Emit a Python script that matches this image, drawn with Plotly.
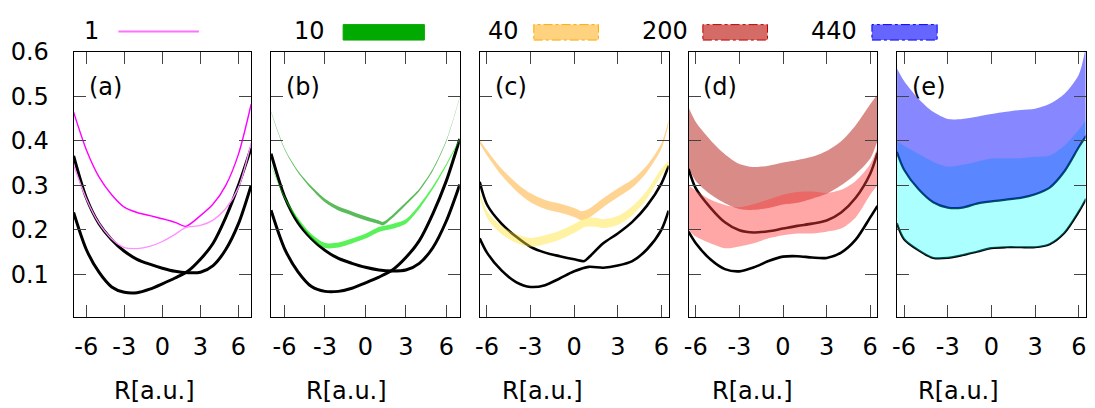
import plotly.graph_objects as go

# ------------------------------------------------------------------ data
# panels (a),(b): R from -7 to 7 ; panels (c),(d),(e): R from -6.5 to 6.5
R_ab = [-7, -6, -5, -4, -3, -2, -1, 0, 1, 2, 3, 4, 5, 6, 7]
R_cde = [-6.5, -6, -5, -4, -3, -2, -1, 0, 1, 2, 3, 4, 5, 6, 6.5]

# (a) N = 1
a_black_1 = [0.366, 0.272, 0.214, 0.178, 0.152, 0.134, 0.123, 0.114, 0.107, 0.104, 0.105, 0.120, 0.156, 0.214, 0.300]
a_black_2 = [0.239, 0.156, 0.105, 0.072, 0.060, 0.059, 0.067, 0.079, 0.092, 0.107, 0.134, 0.170, 0.228, 0.300, 0.384]
a_R_mag = [-7, -6, -5, -4, -3, -2, -1, 0, 1, 1.83, 3, 4, 5, 6, 7]
a_mag_upper = [0.464, 0.380, 0.319, 0.279, 0.251, 0.239, 0.232, 0.225, 0.217, 0.208, 0.232, 0.258, 0.300, 0.370, 0.482]
a_mag_lower = [0.345, 0.270, 0.215, 0.180, 0.160, 0.158, 0.163, 0.174, 0.190, 0.205, 0.210, 0.222, 0.248, 0.295, 0.395]

# (b) N = 10
b_black_1 = [0.371, 0.275, 0.216, 0.180, 0.154, 0.136, 0.125, 0.116, 0.110, 0.108, 0.110, 0.125, 0.160, 0.220, 0.302]
b_black_2 = [0.244, 0.158, 0.106, 0.073, 0.062, 0.062, 0.069, 0.081, 0.094, 0.110, 0.138, 0.176, 0.236, 0.310, 0.404]
b_R_up = [-7, -6, -5, -4, -3, -2, -1, 0, 1, 1.3, 2, 3, 4, 5, 6, 7]
b_green_up_mid = [0.465, 0.382, 0.331, 0.295, 0.266, 0.248, 0.237, 0.226, 0.217, 0.214, 0.230, 0.259, 0.290, 0.335, 0.400, 0.498]
b_green_up_thick = [0.002, 0.003, 0.004, 0.006, 0.008, 0.009, 0.009, 0.009, 0.008, 0.008, 0.007, 0.006, 0.005, 0.004, 0.003, 0.002]
b_green_lo_mid = [0.346, 0.273, 0.223, 0.186, 0.165, 0.166, 0.175, 0.186, 0.201, 0.208, 0.219, 0.252, 0.295, 0.346, 0.404]
b_green_lo_thick = [0.003, 0.005, 0.007, 0.009, 0.011, 0.011, 0.011, 0.011, 0.011, 0.011, 0.010, 0.009, 0.007, 0.005, 0.003]

# (c) N = 40
c_R_b1 = [-6.5, -6, -5, -4, -3, -2, -1, 0, 0.7, 1, 2, 3, 4, 5, 6, 6.5]
c_black_1 = [0.308, 0.257, 0.214, 0.185, 0.162, 0.149, 0.141, 0.134, 0.130, 0.138, 0.170, 0.192, 0.218, 0.254, 0.304, 0.344]
c_black_2 = [0.181, 0.149, 0.109, 0.083, 0.072, 0.076, 0.091, 0.107, 0.117, 0.115, 0.120, 0.130, 0.156, 0.200, 0.243]
c_R_or = [-6.5, -6, -5, -4, -3, -2, -1, 0, 0.5, 1, 2, 3, 4, 5, 6, 6.5]
c_orange_mid = [0.398, 0.373, 0.330, 0.297, 0.272, 0.257, 0.249, 0.239, 0.232, 0.237, 0.261, 0.283, 0.304, 0.337, 0.388, 0.442]
c_orange_thick = [0.008, 0.011, 0.015, 0.018, 0.020, 0.020, 0.020, 0.020, 0.020, 0.020, 0.020, 0.020, 0.018, 0.015, 0.012, 0.010]
c_R_ye = [-6.5, -6, -5, -4, -3, -2, -1, 0, 0.8, 1.5, 2, 3, 4, 5, 6, 6.5]
c_yellow_mid = [0.279, 0.235, 0.200, 0.181, 0.172, 0.178, 0.188, 0.203, 0.217, 0.217, 0.214, 0.221, 0.243, 0.279, 0.330, 0.350]
c_yellow_thick = [0.012, 0.015, 0.018, 0.020, 0.020, 0.020, 0.020, 0.020, 0.020, 0.020, 0.020, 0.020, 0.020, 0.018, 0.015, 0.012]

# (d) N = 200
d_black_1 = [0.337, 0.293, 0.250, 0.217, 0.199, 0.194, 0.197, 0.203, 0.209, 0.214, 0.221, 0.239, 0.272, 0.326, 0.373]
d_black_2 = [0.196, 0.170, 0.134, 0.112, 0.107, 0.116, 0.130, 0.140, 0.141, 0.138, 0.137, 0.149, 0.178, 0.228, 0.254]
d_red_hi = [0.475, 0.442, 0.402, 0.370, 0.348, 0.341, 0.344, 0.351, 0.357, 0.364, 0.377, 0.399, 0.435, 0.482, 0.504]
d_red_lo = [0.340, 0.310, 0.280, 0.260, 0.247, 0.245, 0.249, 0.257, 0.261, 0.270, 0.281, 0.300, 0.325, 0.360, 0.400]
d_pink_hi = [0.300, 0.288, 0.268, 0.256, 0.251, 0.258, 0.268, 0.279, 0.285, 0.286, 0.283, 0.290, 0.310, 0.348, 0.385]
d_pink_lo = [0.200, 0.185, 0.170, 0.159, 0.163, 0.170, 0.181, 0.188, 0.192, 0.192, 0.196, 0.203, 0.228, 0.279, 0.300]

# (e) N = 440
e_black_1 = [0.375, 0.335, 0.291, 0.262, 0.250, 0.250, 0.259, 0.264, 0.268, 0.272, 0.280, 0.295, 0.331, 0.386, 0.411]
e_black_2 = [0.215, 0.179, 0.154, 0.137, 0.137, 0.143, 0.151, 0.159, 0.161, 0.161, 0.161, 0.168, 0.193, 0.241, 0.270]
e_blue_hi = [0.563, 0.534, 0.494, 0.465, 0.449, 0.449, 0.454, 0.460, 0.465, 0.469, 0.472, 0.483, 0.505, 0.549, 0.615]
e_cyan_hi = [0.400, 0.389, 0.371, 0.353, 0.342, 0.346, 0.353, 0.360, 0.361, 0.361, 0.364, 0.367, 0.389, 0.425, 0.447]

legend_labels = ["1", "10", "40", "200", "440"]
panel_labels = ["(a)", "(b)", "(c)", "(d)", "(e)"]
x_tickvals = [-6, -3, 0, 3, 6]
x_ticktext = ["-6", "-3", "0", "3", "6"]
y_tickvals = [0.1, 0.2, 0.3, 0.4, 0.5, 0.6]
y_ticktext = ["0.1", "0.2", "0.3", "0.4", "0.5", "0.6"]
x_title = "R[a.u.]"

# ------------------------------------------------------------------ layout geometry (pixels)
W, H = 1095, 408
panel_px = [(69, 247.5), (267.5, 457.3), (477.3, 667.3), (687.3, 877.3), (897, 1086.5)]
x_ranges = [[-7, 7], [-7, 7], [-6.5, 6.5], [-6.5, 6.5], [-6.48, 6.46]]
top_px, bot_px = 39, 314
y_range = [0.004, 0.6]
FONT = "DejaVu Sans"

fig = go.Figure()


def ax(i):
    return ("x" if i == 1 else f"x{i}"), ("y" if i == 1 else f"y{i}")


def add_line(i, x, y, color, width):
    xa, ya = ax(i)
    fig.add_trace(go.Scatter(x=x, y=y, mode="lines", xaxis=xa, yaxis=ya,
                             line=dict(color=color, width=width, shape="spline", smoothing=0.8),
                             showlegend=False, hoverinfo="skip"))


def add_band(i, x, lo, hi, color):
    xa, ya = ax(i)
    fig.add_trace(go.Scatter(x=x, y=lo, mode="lines", xaxis=xa, yaxis=ya,
                             line=dict(width=0, shape="spline", smoothing=0.8),
                             showlegend=False, hoverinfo="skip"))
    fig.add_trace(go.Scatter(x=x, y=hi, mode="lines", xaxis=xa, yaxis=ya, fill="tonexty",
                             fillcolor=color, line=dict(width=0, shape="spline", smoothing=0.8),
                             showlegend=False, hoverinfo="skip"))


def mid_band(mid, thick):
    lo = [m - t / 2 for m, t in zip(mid, thick)]
    hi = [m + t / 2 for m, t in zip(mid, thick)]
    return lo, hi


# (a)
add_line(1, R_ab, a_black_1, "black", 3)
add_line(1, R_ab, a_black_2, "black", 3)
add_line(1, a_R_mag, a_mag_upper, "#ff00ff", 1.4)
add_line(1, a_R_mag, a_mag_lower, "#ff90ff", 1.3)

# (b)
add_line(2, R_ab, b_black_1, "black", 3)
add_line(2, R_ab, b_black_2, "black", 3)
lo, hi = mid_band(b_green_up_mid, b_green_up_thick)
add_band(2, b_R_up, lo, hi, "rgba(0,150,0,0.65)")
lo, hi = mid_band(b_green_lo_mid, b_green_lo_thick)
add_band(2, R_ab, lo, hi, "rgba(0,235,0,0.65)")

# (c)
add_line(3, c_R_b1, c_black_1, "black", 2.6)
add_line(3, R_cde, c_black_2, "black", 2.6)
lo, hi = mid_band(c_orange_mid, c_orange_thick)
add_band(3, c_R_or, lo, hi, "rgba(255,170,40,0.5)")
lo, hi = mid_band(c_yellow_mid, c_yellow_thick)
add_band(3, c_R_ye, lo, hi, "rgba(255,228,50,0.45)")

# (d)
add_line(4, R_cde, d_black_1, "black", 2.6)
add_line(4, R_cde, d_black_2, "black", 2.6)
add_band(4, R_cde, d_red_lo, d_red_hi, "rgba(180,25,15,0.5)")
add_band(4, R_cde, d_pink_lo, d_pink_hi, "rgba(255,60,60,0.45)")

# (e)
add_line(5, R_cde, e_black_1, "black", 2.2)
add_line(5, R_cde, e_black_2, "black", 2.2)
add_band(5, R_cde, e_black_2, e_cyan_hi, "rgba(0,255,255,0.33)")
add_band(5, R_cde, e_black_1, e_blue_hi, "rgba(0,0,255,0.47)")

# axes
y_dom = [1 - bot_px / H, 1 - top_px / H]
layout = {}
for i, ((l, r), xr) in enumerate(zip(panel_px, x_ranges), start=1):
    xn = "xaxis" if i == 1 else f"xaxis{i}"
    yn = "yaxis" if i == 1 else f"yaxis{i}"
    layout[xn] = dict(domain=[l / W, r / W], range=xr, anchor=ax(i)[1],
                      tickvals=x_tickvals, ticktext=x_ticktext, tickangle=0,
                      ticks="inside", ticklen=12, tickwidth=1, tickcolor="#444",
                      showline=True, linecolor="black", linewidth=1, mirror="ticks",
                      showgrid=False, zeroline=False, ticklabelstandoff=8,
                      tickfont=dict(family=FONT, size=24, color="black"))
    layout[yn] = dict(domain=y_dom, range=y_range, anchor=ax(i)[0],
                      tickvals=y_tickvals, ticktext=y_ticktext,
                      ticks="inside", ticklen=12, tickwidth=1, tickcolor="#444",
                      showline=True, linecolor="black", linewidth=1, mirror="ticks",
                      showgrid=False, zeroline=False, showticklabels=(i == 1),
                      ticklabelstandoff=19,
                      tickfont=dict(family=FONT, size=24, color="black"))
fig.update_layout(**layout)

annotations = []
shapes = []
# panel labels and x titles
title_px = [150, 343, 540, 752, 959]
for i, ((l, r), lab, tx) in enumerate(zip(panel_px, panel_labels, title_px), start=1):
    annotations.append(dict(text=lab, x=(l + 13) / W, y=1 - 76 / H, xref="paper", yref="paper",
                            xanchor="left", yanchor="middle", showarrow=False,
                            font=dict(family=FONT, size=24, color="black")))
    annotations.append(dict(text=x_title, x=tx / W, y=1 - 390 / H, xref="paper", yref="paper",
                            xanchor="center", yanchor="middle", showarrow=False,
                            font=dict(family=FONT, size=24, color="black")))

# key (legend) at top
key_text_right = [97, 324, 519, 689, 859]
key_sample = [(114, 195), (340, 421.7), (531.7, 596.7), (701.7, 766.7), (871.7, 937.3)]
key_fill = [None, "#00aa00", "#ffd27f", "#d46b66", "#6666ff"]
key_edge = ["#ff70ff", "#00aa00", "#ffaa00", "#c00000", "#0000ff"]
ky = 1 - 18 / H
for lab, tr, (s0, s1), fc, ec in zip(legend_labels, key_text_right, key_sample, key_fill, key_edge):
    annotations.append(dict(text=lab, x=tr / W, y=ky, xref="paper", yref="paper",
                            xanchor="right", yanchor="middle", showarrow=False,
                            font=dict(family=FONT, size=24, color="black")))
    if fc is None:
        shapes.append(dict(type="line", xref="paper", yref="paper", x0=s0 / W, x1=s1 / W,
                           y0=ky, y1=ky, line=dict(color=ec, width=2)))
    else:
        shapes.append(dict(type="rect", xref="paper", yref="paper", x0=s0 / W, x1=s1 / W,
                           y0=1 - 27 / H, y1=1 - 11 / H, fillcolor=fc,
                           line=dict(color=ec, width=1, dash="dashdot" if fc != "#00aa00" else "solid")))

fig.update_layout(width=W, height=H, margin=dict(l=0, r=0, t=0, b=0),
                  paper_bgcolor="white", plot_bgcolor="white",
                  annotations=annotations, shapes=shapes, showlegend=False)

fig.write_html("out.html")
